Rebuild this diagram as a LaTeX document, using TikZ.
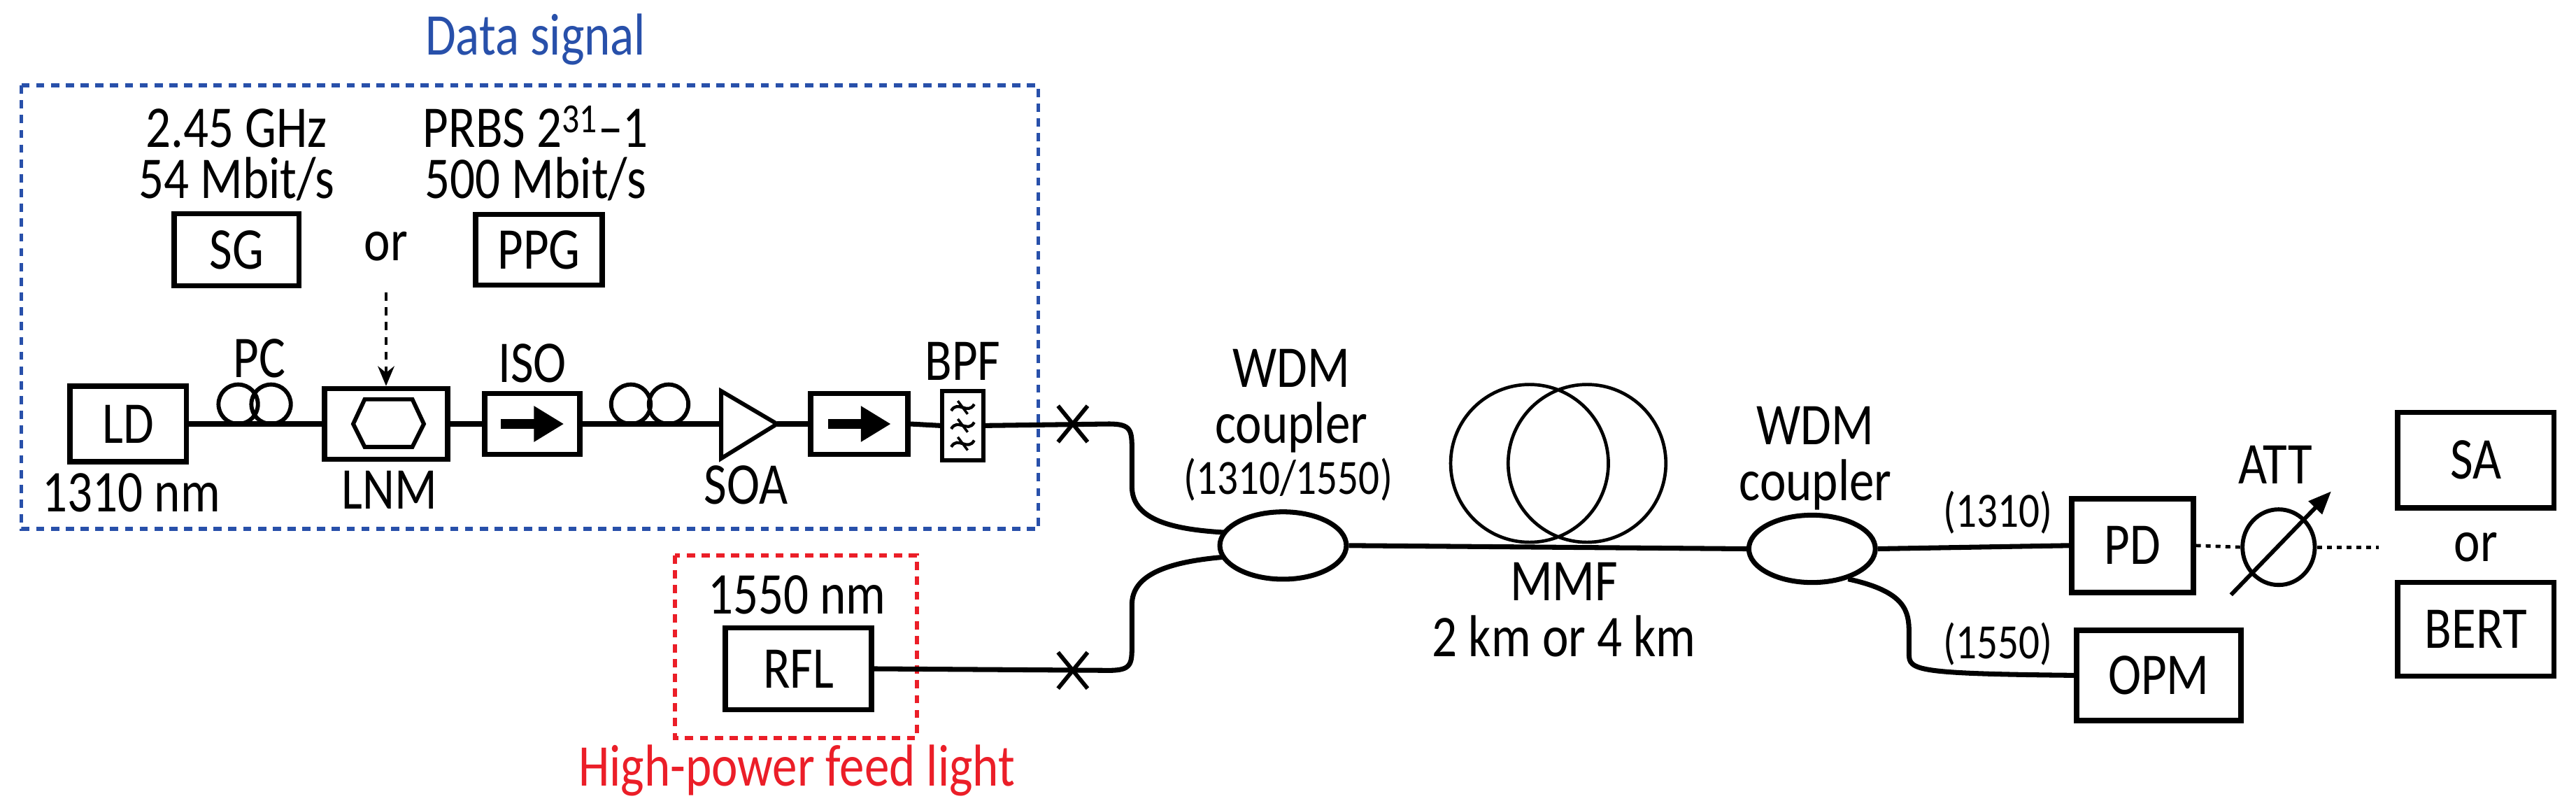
\documentclass[tikz,border=0pt]{standalone}
\usepackage{fontspec}
\setmainfont{Carlito}[FakeStretch=0.84]
\usetikzlibrary{arrows.meta,shapes.geometric}
\definecolor{dblue}{RGB}{40,80,170}
\definecolor{dred}{RGB}{235,30,40}
\begin{document}
\begin{tikzpicture}[x=1pt,y=-1pt,line width=3pt,
  lbl/.style={font=\fontsize{36}{38}\selectfont,inner sep=0pt,align=center},
  small/.style={font=\fontsize{30}{34}\selectfont},
  box/.style={draw,line width=3.2pt,minimum width=#1,inner sep=0pt,font=\fontsize{36}{38}\selectfont},
  fib/.style={line width=3pt},
  xmark/.style={line width=2.5pt}]
\useasboundingbox (0,0) rectangle (1568,491.7);
% frames
\draw[dblue,line width=2.5pt,dash pattern=on 5pt off 4pt] (13,52) rectangle (632,322);
\node[lbl,text=dblue] (ds) at (326,24) {Data signal};
\draw[dred,line width=2.5pt,dash pattern=on 5pt off 4pt] (411,338) rectangle (558,449);
\node[lbl,text=dred] (hp) at (485,469) {High-power feed light};
% top sources
\node[lbl] (t1) at (144,78) {2.45 GHz};
\node[lbl] (t2) at (144,109) {54 Mbit/s};
\node[lbl] (t3) at (326,77) {PRBS 2\textsuperscript{31}–1};
\node[lbl] (t4) at (326,109) {500 Mbit/s};
\node[box=76pt,minimum height=44pt] (SG) at (144,152) {SG};
\node[box=77pt,minimum height=43pt] (PPG) at (328,152) {PPG};
\node[lbl] (or1) at (235,150) {or};
% main line components
\node[box=71pt,minimum height=46pt] (LD) at (78,258) {LD};
\node[lbl] (l1310) at (80,300) {1310 nm};
\node[box=75pt,minimum height=43pt] (LNM) at (235,258) {};
\node[lbl] (lnm) at (237,298) {LNM};
\draw[line width=2.5pt] (215,258) -- (222,243) -- (251,243) -- (258,258) -- (251,272) -- (222,272) -- cycle;
\node[box=58pt,minimum height=37pt] (ISO) at (324,258) {};
\node[lbl] (iso) at (324,221) {ISO};
\node[box=59pt,minimum height=37pt] (ISO2) at (523,258) {};
\foreach \c in {324,523}{
  \fill (\c-19,255) rectangle (\c+2,261);
  \fill (\c+1,247) -- (\c+19,258) -- (\c+1,269) -- cycle;}
\node[lbl] (pc) at (158,218) {PC};
\draw[line width=2.5pt] (145,246) circle (12) (165,246) circle (12);
\draw[line width=2.5pt] (384,246) circle (12) (407,246) circle (12);
\draw[line width=2.5pt] (439,238) -- (473,258) -- (439,279) -- cycle;
\node[lbl] (soa) at (454,295) {SOA};
\node[box=25pt,minimum height=42pt,line width=2.5pt] (BPF) at (586,259) {};
\node[lbl] (bpf) at (586,220) {BPF};
\foreach \yy in {248,259,270}{
  \draw[line width=1.8pt] (579,\yy+2) .. controls (583,\yy-5) and (589,\yy+5) .. (593,\yy-2);}
\draw[line width=1.5pt] (583,244) -- (589,252) (583,255) -- (589,263) (583,266) -- (589,274);
% main connections
\draw[fib] (LD.east) -- (LNM.west);
\draw[fib] (LNM.east) -- (ISO.west);
\draw[fib] (ISO.east) -- (439,258);
\draw[fib] (473,258) -- (ISO2.west);
\draw[fib] (ISO2.east) -- (BPF.west);
\coordinate (xa) at (653,258);
\coordinate (xb) at (653,408);
\draw[fib] (BPF.east) -- (675,258) .. controls (689,258) and (689,262) .. (689,275) -- (689,296)
  .. controls (689,315) and (710,322) .. (745,324);
\draw[xmark] (xa) ++(-9,-11) -- ++(18,22) (xa) ++(9,-11) -- ++(-18,22);
\draw[xmark] (xb) ++(-9,-11) -- ++(18,22) (xb) ++(9,-11) -- ++(-18,22);
\draw[line width=2pt,dash pattern=on 5pt off 4pt,-{Stealth[length=12pt,width=10pt]}] (235,178) -- (LNM.north);
% RFL
\node[box=89pt,minimum height=50pt] (RFL) at (486,407) {RFL};
\node[lbl] (l1550) at (485,362) {1550 nm};
\draw[fib] (RFL.east) -- (675,408) .. controls (689,408) and (689,404) .. (689,392) -- (689,368)
  .. controls (689,350) and (710,342) .. (745,339);
% coupler 1
\node[draw,ellipse,line width=3pt,minimum width=77pt,minimum height=41pt,inner sep=0pt] (C1) at (781,332) {};
\node[lbl] (w1) at (786,244) {WDM\\[-4pt]coupler};
\node[lbl,small] (w1b) at (784,292) {(1310/1550)};
% MMF
\draw[line width=2pt] (931,282) circle (48) (966,282) circle (48);
\node[lbl] (mmf) at (952,371) {MMF\\[-4pt]2 km or 4 km};
% coupler 2
\node[draw,ellipse,line width=3pt,minimum width=77pt,minimum height=41pt,inner sep=0pt] (C2) at (1103,334) {};
\node[lbl] (w2) at (1105,279) {WDM\\[-4pt]coupler};
\draw[fib] (C1.east) -- (C2.west);
% receivers
\node[box=74pt,minimum height=57pt] (PD) at (1298,332) {PD};
\node[box=100pt,minimum height=55pt] (OPM) at (1314,411) {OPM};
\node[lbl,small] (p1) at (1216,312) {(1310)};
\node[lbl,small] (p2) at (1216,392) {(1550)};
\draw[fib] (C2.east) -- (PD.west);
\draw[fib] (C2.-40) .. controls (1160,360) and (1162,372) .. (1162,385) -- (1162,398)
  .. controls (1162,408) and (1166,410) .. (OPM.west);
\node[draw,ellipse,line width=2.5pt,minimum width=44pt,minimum height=46pt,inner sep=0pt] (ATT) at (1387,333) {};
\node[lbl] (att) at (1385,283) {ATT};
\draw[line width=2.5pt,-{Triangle[length=14pt,width=11pt]}] (1358,362) -- (1419,299);
\coordinate (end) at (1448,333);
\draw[line width=2pt,dash pattern=on 3pt off 3pt] (PD.east) -- (ATT.west);
\draw[line width=2pt,dash pattern=on 3pt off 3pt] (ATT.east) -- (end);
\node[box=95pt,minimum height=58pt] (SA) at (1507,280) {SA};
\node[lbl] (or2) at (1507,333) {or};
\node[box=95pt,minimum height=57pt] (BERT) at (1507,383) {BERT};
\end{tikzpicture}
\end{document}
